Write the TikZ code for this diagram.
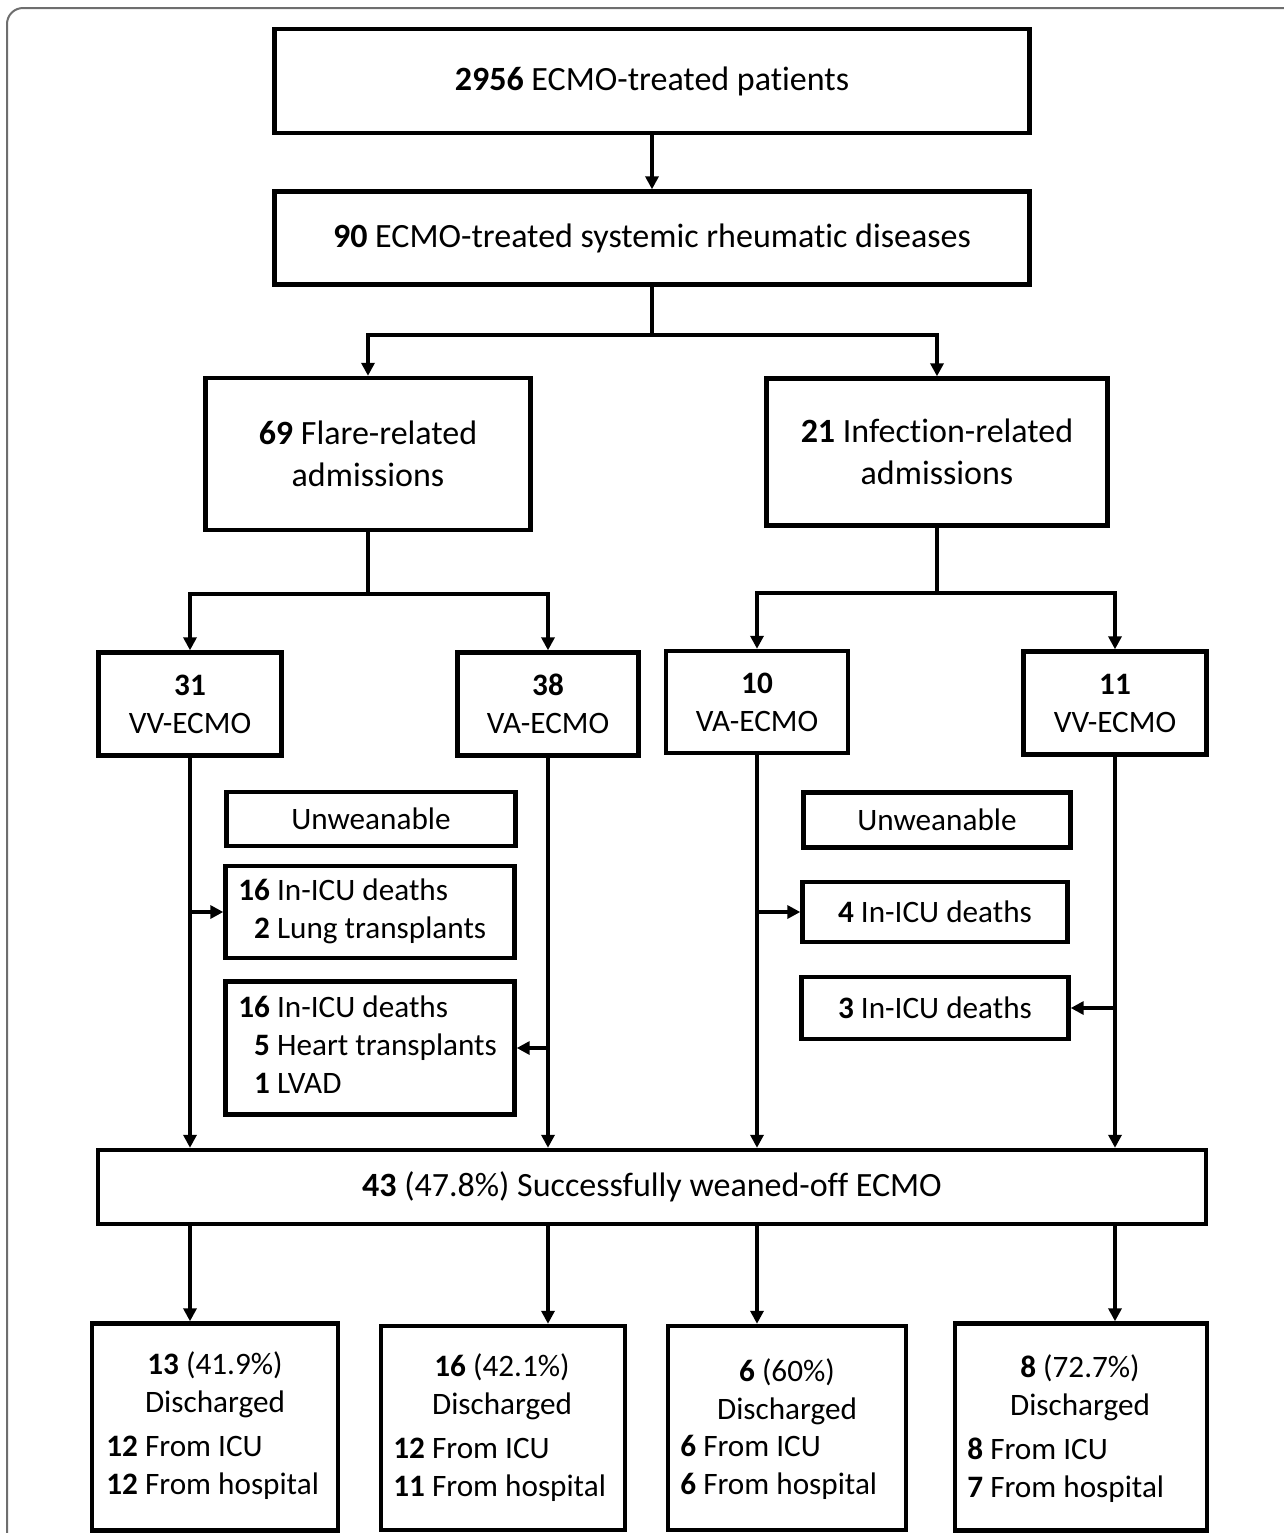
\documentclass[tikz,border=0pt]{standalone}
\usepackage{fontspec}
\setmainfont{Carlito}[Ligatures=NoCommon]
\usetikzlibrary{arrows.meta}
\definecolor{framegray}{RGB}{110,110,110}
\newcommand{\nb}[1]{\textbf{#1}}
\newcommand{\tally}[1]{\begin{tabular}{@{}r@{ }l@{}}#1\end{tabular}}

\begin{document}
\begin{tikzpicture}[x=0.5pt, y=-0.5pt,
	every node/.style={font=\fontsize{15.6}{19}\selectfont},
	big/.style={font=\fontsize{17}{21}\selectfont},
	box/.style 2 args={draw, line width=2.2pt, inner sep=0pt, align=center,
		minimum width=#1*0.5pt, minimum height=#2*0.5pt},
	txt/.style={inner sep=0pt, align=center},
	arr/.style={line width=2pt, -{Triangle[length=6.5pt,width=6.5pt]}}]
	\useasboundingbox (0,0) rectangle (1284,1533);
	\draw[framegray, line width=1pt, rounded corners=8pt] (7,8) rectangle (1330,1590);
	% top of the chart
	\node[box={755}{104}, big] (total) at (652,81) {\nb{2956} ECMO-treated patients};
	\node[box={755}{93}, big] (rheum) at (652,238) {\nb{90} ECMO-treated systemic rheumatic diseases};
	\node[box={325}{152}, big] (flare) at (368,454) {\nb{69} Flare-related\\admissions};
	\node[box={341}{147}, big] (infect) at (937,452) {\nb{21} Infection-related\\admissions};
	\node[box={183}{103}] (vvA) at (190,704) {\nb{31}\\VV-ECMO};
	\node[box={181}{103}] (vaA) at (548,704) {\nb{38}\\VA-ECMO};
	\node[box={182}{102}] (vaB) at (757,702) {\nb{10}\\VA-ECMO};
	\node[box={183}{103}] (vvB) at (1115,703) {\nb{11}\\VV-ECMO};
	% unweanable
	\node[box={289}{54}] (unwA) at (371,819) {Unweanable};
	\node[box={289}{92}] (deadA) at (370,912) {};
	\node[txt, anchor=west] (deadAtxt) at (238,912) {\tally{\nb{16} & In-ICU deaths\\ \nb{2} & Lung transplants}};
	\node[box={289}{133}] (deadB) at (370,1048) {};
	\node[txt, anchor=west] (deadBtxt) at (238,1048) {\tally{\nb{16} & In-ICU deaths\\ \nb{5} & Heart transplants\\ \nb{1} & LVAD}};
	\node[box={267}{55}] (unwB) at (937,820) {Unweanable};
	\node[box={265}{60}] (deadC) at (935,912) {\nb{4} In-ICU deaths};
	\node[box={267}{62}] (deadD) at (935,1008) {\nb{3} In-ICU deaths};
	% weaned and discharged
	\node[box={1108}{74}, big] (wean) at (652,1187) {\nb{43} (47.8\%) Successfully weaned-off ECMO};
	\node[box={246}{207}] (disA) at (215,1427) {};
	\node[txt] (disAhead) at (215,1385) {\nb{13} (41.9\%)\\Discharged};
	\node[txt, anchor=west] (disAlist) at (106,1468) {\tally{\nb{12} & From ICU\\ \nb{12} & From hospital}};
	\node[box={244}{204}] (disB) at (503,1428) {};
	\node[txt] (disBhead) at (502,1387) {\nb{16} (42.1\%)\\Discharged};
	\node[txt, anchor=west] (disBlist) at (393,1470) {\tally{\nb{12} & From ICU\\ \nb{11} & From hospital}};
	\node[box={238}{204}] (disC) at (787,1428) {};
	\node[txt] (disChead) at (787,1392) {\nb{6} (60\%)\\Discharged};
	\node[txt, anchor=west] (disClist) at (680,1468) {\tally{\nb{6} & From ICU\\ \nb{6} & From hospital}};
	\node[box={252}{207}] (disD) at (1081,1427) {};
	\node[txt] (disDhead) at (1080,1388) {\nb{8} (72.7\%)\\Discharged};
	\node[txt, anchor=west] (disDlist) at (967,1471) {\tally{\nb{8} & From ICU\\ \nb{7} & From hospital}};
	% connectors
	\draw[arr] (total) -- (rheum);
	\draw[arr] (rheum.south) -- ++(0,48) -| (flare.north);
	\draw[arr] (rheum.south) -- ++(0,48) -| (infect.north);
	\draw[arr] (flare.south) -- ++(0,62) -| (vvA.north);
	\draw[arr] (flare.south) -- ++(0,62) -| (vaA.north);
	\draw[arr] (infect.south) -- ++(0,65) -| (vaB.north);
	\draw[arr] (infect.south) -- ++(0,65) -| (vvB.north);
	\foreach \src in {vvA, vaA, vaB, vvB}
		\draw[arr] (\src.south) -- (\src.south |- wean.north);
	\draw[arr] (vvA.south |- deadA.west) -- (deadA.west);
	\draw[arr] (vaA.south |- deadB.east) -- (deadB.east);
	\draw[arr] (vaB.south |- deadC.west) -- (deadC.west);
	\draw[arr] (vvB.south |- deadD.east) -- (deadD.east);
	\foreach \src/\dst in {vvA/disA, vaA/disB, vaB/disC, vvB/disD}
		\draw[arr] (wean.south -| \src.south) -- (\src.south |- \dst.north);
\end{tikzpicture}
\end{document}
